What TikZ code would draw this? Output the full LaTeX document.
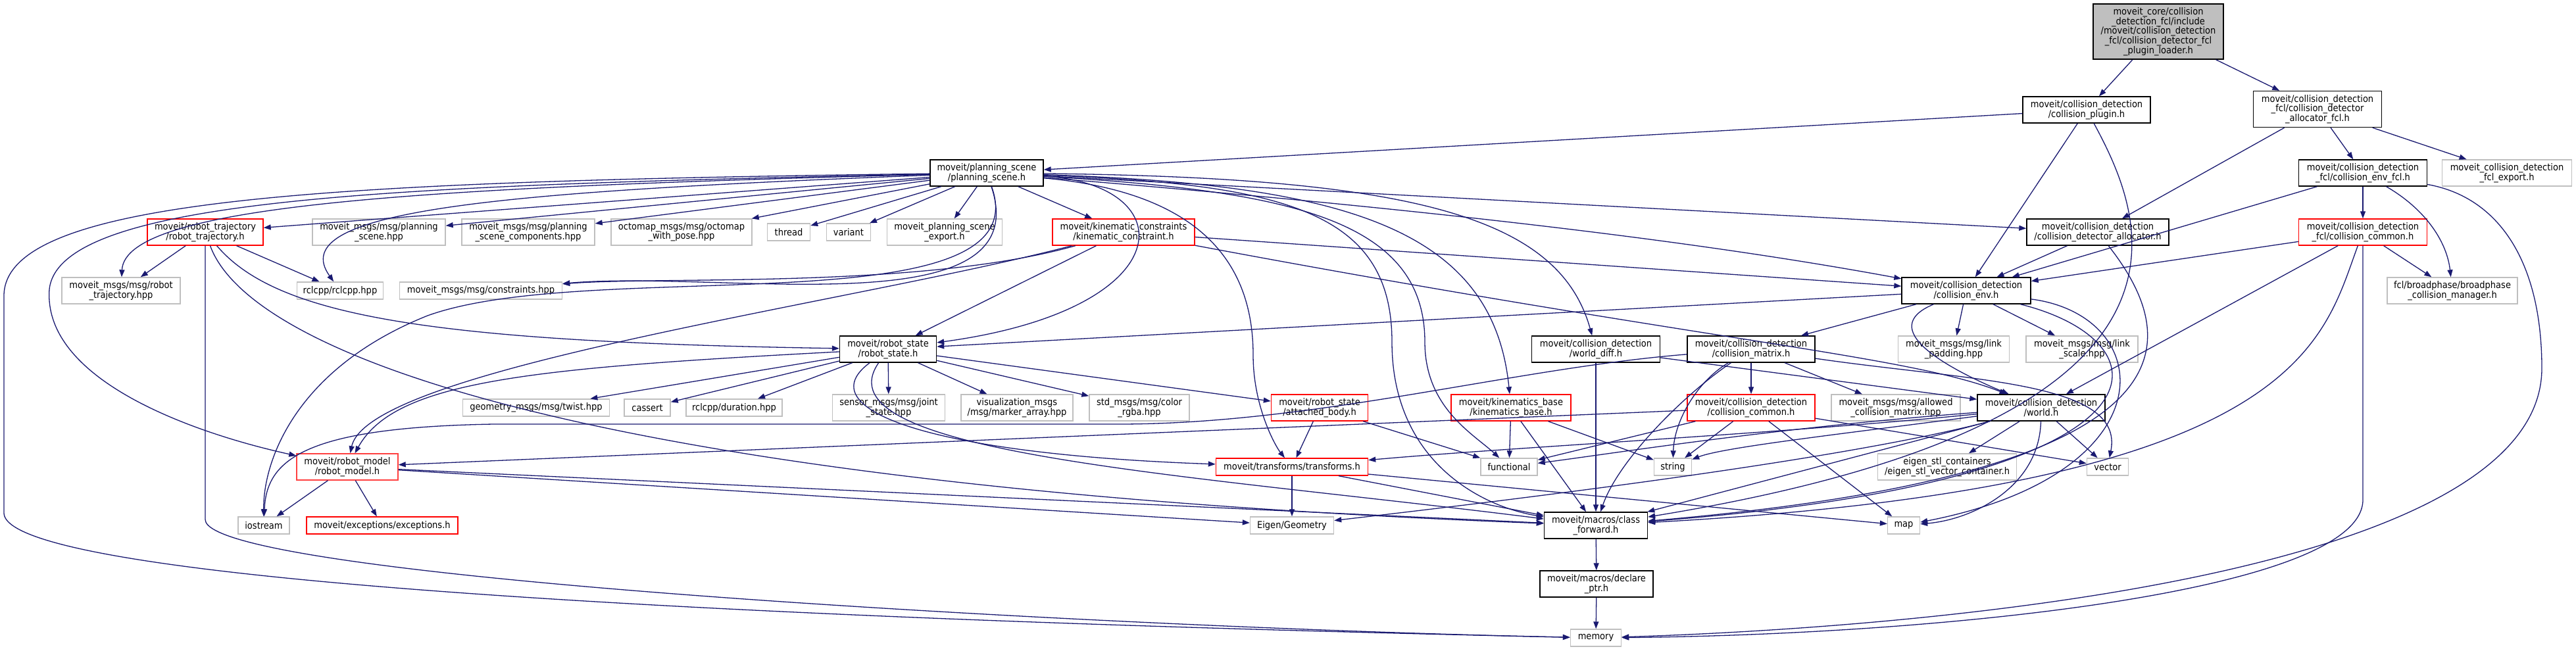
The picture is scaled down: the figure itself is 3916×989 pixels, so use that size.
\documentclass[tikz,border=0pt]{standalone}
\usepackage{fontspec}
\setmainfont{DejaVu Sans Condensed}
\usetikzlibrary{arrows.meta}
\definecolor{dgEdge}{HTML}{191970}
\definecolor{dgGrey}{HTML}{BFBFBF}
\definecolor{dgRed}{HTML}{FF0000}
\definecolor{dgInk}{HTML}{000000}
\newcommand{\DGType}{\fontsize{14.5}{14.7}\selectfont}
\tikzset{dg/base/.style={x=1pt,y=1pt,
  every node/.style={font=\DGType,inner sep=0pt,text=dgInk}},
  dg/dep/.style={-{Triangle[length=11pt,width=8pt]},draw=dgEdge,line width=1.3pt},
  dg/box/.style={draw=dgInk,fill=white,line width=1.4pt,align=center},
  dg/ext/.style={dg/box,draw=dgGrey},
  dg/trunc/.style={dg/box,draw=dgRed},
  dg/root/.style={dg/box,fill=dgGrey},
  dg/l1/.style={minimum height=26pt},
  dg/l2/.style={minimum height=40pt},
  dg/l3/.style={minimum height=55pt}}

\begin{document}
\begin{tikzpicture}[dg/base,y=-1pt]
  \useasboundingbox (0,0) rectangle (3916,989);
  % top of the graph: the fcl plugin loader
  \node[dg/root,minimum width=198pt,minimum height=84pt] (root) at (3281,48)
    {moveit\_core/collision\\\_detection\_fcl/include\\/moveit/collision\_detection\\\_fcl/collision\_detector\_fcl\\\_plugin\_loader.h};
  \node[dg/box,dg/l2,minimum width=194pt] (plugin) at (3172,167) {moveit/collision\_detection\\/collision\_plugin.h};
  \node[dg/box,dg/l3,minimum width=195pt] (allocfcl) at (3523,166) {moveit/collision\_detection\\\_fcl/collision\_detector\\\_allocator\_fcl.h};
  \node[dg/box,dg/l2,minimum width=195pt] (envfcl) at (3592,263) {moveit/collision\_detection\\\_fcl/collision\_env\_fcl.h};
  \node[dg/ext,dg/l2,minimum width=197pt] (fclexport) at (3811,263) {moveit\_collision\_detection\\\_fcl\_export.h};
  \node[dg/box,dg/l2,minimum width=216pt] (detalloc) at (3189,353) {moveit/collision\_detection\\/collision\_detector\_allocator.h};
  \node[dg/trunc,dg/l2,minimum width=195pt] (fclcommon) at (3592,353) {moveit/collision\_detection\\\_fcl/collision\_common.h};
  \node[dg/box,dg/l2,minimum width=196pt] (colenv) at (2989,442) {moveit/collision\_detection\\/collision\_env.h};
  \node[dg/ext,dg/l2,minimum width=198pt] (broadphase) at (3728,442) {fcl/broadphase/broadphase\\\_collision\_manager.h};
  \node[dg/ext,dg/l2,minimum width=169pt] (padding) at (2970,531) {moveit\_msgs/msg/link\\\_padding.hpp};
  \node[dg/ext,dg/l2,minimum width=170pt] (scale) at (3165,531) {moveit\_msgs/msg/link\\\_scale.hpp};
  \node[dg/box,dg/l2,minimum width=194pt] (world) at (3103,620) {moveit/collision\_detection\\/world.h};
  \node[dg/ext,dg/l2,minimum width=196pt] (acm) at (2882,620) {moveit\_msgs/msg/allowed\\\_collision\_matrix.hpp};
  % planning scene row
  \node[dg/box,dg/l2,minimum width=172pt] (pscene) at (1500,263) {moveit/planning\_scene\\/planning\_scene.h};
  \node[dg/trunc,dg/l2,minimum width=176pt] (rtraj) at (312,353) {moveit/robot\_trajectory\\/robot\_trajectory.h};
  \node[dg/ext,dg/l2,minimum width=202pt] (msgpscene) at (576,353) {moveit\_msgs/msg/planning\\\_scene.hpp};
  \node[dg/ext,dg/l2,minimum width=202pt] (msgcomp) at (803,353) {moveit\_msgs/msg/planning\\\_scene\_components.hpp};
  \node[dg/ext,dg/l2,minimum width=214pt] (octomap) at (1036,353) {octomap\_msgs/msg/octomap\\\_with\_pose.hpp};
  \node[dg/ext,dg/l1,minimum width=65pt] (thread) at (1199,353) {thread};
  \node[dg/ext,dg/l1,minimum width=67pt] (variant) at (1290,353) {variant};
  \node[dg/ext,dg/l2,minimum width=175pt] (psexport) at (1436,353) {moveit\_planning\_scene\\\_export.h};
  \node[dg/trunc,dg/l2,minimum width=216pt] (kincon) at (1708,353) {moveit/kinematic\_constraints\\/kinematic\_constraint.h};
  \node[dg/ext,dg/l2,minimum width=180pt] (msgrtraj) at (184,442) {moveit\_msgs/msg/robot\\\_trajectory.hpp};
  \node[dg/ext,dg/l1,minimum width=131pt] (rclcpp) at (517,442) {rclcpp/rclcpp.hpp};
  \node[dg/ext,dg/l1,minimum width=247pt] (constraints) at (731,442) {moveit\_msgs/msg/constraints.hpp};
  % robot state and its includes
  \node[dg/box,dg/l2,minimum width=147pt] (rstate) at (1350,531) {moveit/robot\_state\\/robot\_state.h};
  \node[dg/ext,dg/l1,minimum width=223pt] (twist) at (815,620) {geometry\_msgs/msg/twist.hpp};
  \node[dg/ext,dg/l1,minimum width=70pt] (cassert) at (984,620) {cassert};
  \node[dg/ext,dg/l1,minimum width=146pt] (duration) at (1116,620) {rclcpp/duration.hpp};
  \node[dg/ext,dg/l2,minimum width=171pt] (jointstate) at (1351,620) {sensor\_msgs/msg/joint\\\_state.hpp};
  \node[dg/ext,dg/l2,minimum width=170pt] (marker) at (1546,620) {visualization\_msgs\\/msg/marker\_array.hpp};
  \node[dg/ext,dg/l2,minimum width=152pt] (rgba) at (1732,620) {std\_msgs/msg/color\\\_rgba.hpp};
  \node[dg/trunc,dg/l2,minimum width=147pt] (attached) at (2006,620) {moveit/robot\_state\\/attached\_body.h};
  \node[dg/trunc,dg/l2,minimum width=182pt] (kinbase) at (2297,620) {moveit/kinematics\_base\\/kinematics\_base.h};
  \node[dg/box,dg/l2,minimum width=195pt] (worlddiff) at (2426,531) {moveit/collision\_detection\\/world\_diff.h};
  \node[dg/box,dg/l2,minimum width=194pt] (colmatrix) at (2662,531) {moveit/collision\_detection\\/collision\_matrix.h};
  \node[dg/trunc,dg/l2,minimum width=194pt] (colcommon) at (2662,620) {moveit/collision\_detection\\/collision\_common.h};
  \node[dg/box,dg/l2,minimum width=154pt,draw=dgRed!75] (rmodel) at (528,710) {moveit/robot\_model\\/robot\_model.h};
  % bottom rows
  \node[dg/trunc,dg/l1,minimum width=231pt] (transforms) at (1964,710) {moveit/transforms/transforms.h};
  \node[dg/ext,dg/l1,minimum width=86pt] (functional) at (2294,710) {functional};
  \node[dg/ext,dg/l1,minimum width=57pt] (string) at (2543,710) {string};
  \node[dg/ext,dg/l2,minimum width=211pt] (eigenstl) at (2960,710) {eigen\_stl\_containers\\/eigen\_stl\_vector\_container.h};
  \node[dg/ext,dg/l1,minimum width=63pt] (vector) at (3204,710) {vector};
  \node[dg/ext,dg/l1,minimum width=127pt] (eigen) at (1964,799) {Eigen/Geometry};
  \node[dg/box,dg/l2,minimum width=157pt] (classfwd) at (2426,799) {moveit/macros/class\\\_forward.h};
  \node[dg/ext,dg/l1,minimum width=49pt] (map) at (2894,799) {map};
  \node[dg/box,dg/l2,minimum width=172pt] (declptr) at (2427,888) {moveit/macros/declare\\\_ptr.h};
  \node[dg/ext,dg/l1,minimum width=77pt] (memory) at (2426,970) {memory};
  \node[dg/ext,dg/l1,minimum width=78pt] (iostream) at (401,799) {iostream};
  \node[dg/trunc,dg/l1,minimum width=230pt] (exceptions) at (581,799) {moveit/exceptions/exceptions.h};

  % loader and fcl side
  \draw[dg/dep] (root) -- (plugin);
  \draw[dg/dep] (root) -- (allocfcl);
  \draw[dg/dep] (plugin) -- (pscene);
  \draw[dg/dep] (plugin) -- (colenv);
  \draw[dg/dep] (plugin) .. controls (3260,330) and (3400,640) .. (classfwd);
  \draw[dg/dep] (allocfcl) -- (detalloc);
  \draw[dg/dep] (allocfcl) -- (envfcl);
  \draw[dg/dep] (allocfcl) -- (fclexport);
  \draw[dg/dep] (envfcl) -- (colenv);
  \draw[dg/dep] (envfcl) -- (fclcommon);
  \draw[dg/dep] (envfcl) .. controls (3690,320) and (3720,370) .. (broadphase);
  \draw[dg/dep] (envfcl) .. controls (3800,300) and (3864,400) .. (3864,560) .. controls (3864,880) and (2900,955) .. (memory);
  \draw[dg/dep] (fclcommon) -- (colenv);
  \draw[dg/dep] (fclcommon) -- (broadphase);
  \draw[dg/dep] (fclcommon) -- (world);
  \draw[dg/dep] (fclcommon) .. controls (3530,520) and (3500,740) .. (classfwd);
  \draw[dg/dep] (fclcommon) -- (3592,760) .. controls (3592,900) and (2950,965) .. (memory);
  \draw[dg/dep] (detalloc) -- (colenv);
  \draw[dg/dep] (detalloc) .. controls (3320,520) and (3350,720) .. (classfwd);
  % collision env
  \draw[dg/dep] (colenv) -- (rstate);
  \draw[dg/dep] (colenv) -- (colmatrix);
  \draw[dg/dep] (colenv) -- (padding);
  \draw[dg/dep] (colenv) -- (scale);
  \draw[dg/dep] (colenv) .. controls (2850,500) and (2960,560) .. (world);
  \draw[dg/dep] (colenv) .. controls (3280,480) and (3300,720) .. (map);
  \draw[dg/dep] (colenv) .. controls (3300,520) and (3330,730) .. (classfwd);
  % planning scene fan-out
  \draw[dg/dep] (pscene) -- (rtraj);
  \draw[dg/dep] (pscene) -- (msgpscene);
  \draw[dg/dep] (pscene) -- (msgcomp);
  \draw[dg/dep] (pscene) -- (octomap);
  \draw[dg/dep] (pscene) -- (thread);
  \draw[dg/dep] (pscene) -- (variant);
  \draw[dg/dep] (pscene) -- (psexport);
  \draw[dg/dep] (pscene) -- (kincon);
  \draw[dg/dep] (pscene) -- (detalloc);
  \draw[dg/dep] (pscene) .. controls (2200,320) and (2600,370) .. (colenv);
  \draw[dg/dep] (pscene) .. controls (2150,270) and (2370,330) .. (worlddiff);
  \draw[dg/dep] (pscene) .. controls (2050,280) and (2270,350) .. (kinbase);
  \draw[dg/dep] (pscene) .. controls (1950,290) and (2166,330) .. (2166,520) .. controls (2166,620) and (2240,660) .. (functional);
  \draw[dg/dep] (pscene) .. controls (1950,280) and (2116,320) .. (2116,520) .. controls (2116,700) and (2250,770) .. (classfwd);
  \draw[dg/dep] (pscene) .. controls (1800,290) and (1905,380) .. (1905,540) .. controls (1905,620) and (1940,680) .. (transforms);
  \draw[dg/dep] (pscene) .. controls (1800,280) and (1800,470) .. (rstate);
  \draw[dg/dep] (pscene) .. controls (600,282) and (90,300) .. (75,440) .. controls (65,580) and (300,660) .. (rmodel);
  \draw[dg/dep] (pscene) .. controls (500,276) and (6,300) .. (6,450) -- (6,780) .. controls (6,900) and (1500,950) .. (memory);
  \draw[dg/dep] (pscene) .. controls (650,285) and (190,310) .. (msgrtraj);
  \draw[dg/dep] (pscene) .. controls (750,292) and (430,320) .. (rclcpp);
  \draw[dg/dep] (pscene) .. controls (1580,500) and (1100,410) .. (constraints);
  \draw[dg/dep] (pscene) .. controls (1585,500) and (900,390) .. (650,480) .. controls (450,560) and (400,700) .. (iostream);
  % robot trajectory
  \draw[dg/dep] (rtraj) -- (msgrtraj);
  \draw[dg/dep] (rtraj) -- (rclcpp);
  \draw[dg/dep] (rtraj) -- (312,790) .. controls (312,880) and (1700,955) .. (memory);
  \draw[dg/dep] (rtraj) .. controls (420,480) and (650,520) .. (rstate);
  \draw[dg/dep] (rtraj) .. controls (380,540) and (900,740) .. (classfwd);
  % kinematic constraints
  \draw[dg/dep] (kincon) .. controls (1400,440) and (1000,420) .. (constraints);
  \draw[dg/dep] (kincon) -- (rstate);
  \draw[dg/dep] (kincon) .. controls (1300,460) and (560,560) .. (rmodel);
  \draw[dg/dep] (kincon) -- (colenv);
  \draw[dg/dep] (kincon) .. controls (2600,520) and (2900,540) .. (world);
  % robot state
  \draw[dg/dep] (rstate) .. controls (800,560) and (600,580) .. (rmodel);
  \draw[dg/dep] (rstate) -- (twist);
  \draw[dg/dep] (rstate) -- (cassert);
  \draw[dg/dep] (rstate) -- (duration);
  \draw[dg/dep] (rstate) -- (jointstate);
  \draw[dg/dep] (rstate) -- (marker);
  \draw[dg/dep] (rstate) -- (rgba);
  \draw[dg/dep] (rstate) -- (attached);
  \draw[dg/dep] (rstate) .. controls (1230,620) and (1400,690) .. (transforms);
  \draw[dg/dep] (rstate) .. controls (1240,690) and (1800,720) .. (classfwd);
  \draw[dg/dep] (attached) -- (transforms);
  \draw[dg/dep] (attached) -- (functional);
  \draw[dg/dep] (kinbase) -- (functional);
  \draw[dg/dep] (kinbase) -- (string);
  \draw[dg/dep] (kinbase) -- (classfwd);
  \draw[dg/dep] (worlddiff) -- (world);
  \draw[dg/dep] (worlddiff) -- (classfwd);
  % collision matrix and common
  \draw[dg/dep] (colmatrix) -- (colcommon);
  \draw[dg/dep] (colmatrix) -- (acm);
  \draw[dg/dep] (colmatrix) .. controls (2580,580) and (2545,640) .. (string);
  \draw[dg/dep] (colmatrix) .. controls (2560,600) and (2460,700) .. (classfwd);
  \draw[dg/dep] (colmatrix) .. controls (2300,560) and (2000,645) .. (1700,645) -- (750,645) .. controls (460,650) and (405,700) .. (iostream);
  \draw[dg/dep] (colmatrix) .. controls (3000,580) and (3230,580) .. (vector);
  \draw[dg/dep] (colcommon) -- (functional);
  \draw[dg/dep] (colcommon) -- (string);
  \draw[dg/dep] (colcommon) -- (map);
  \draw[dg/dep] (colcommon) -- (vector);
  \draw[dg/dep] (colcommon) -- (rmodel);
  % world
  \draw[dg/dep] (world) -- (eigenstl);
  \draw[dg/dep] (world) -- (vector);
  \draw[dg/dep] (world) .. controls (3100,740) and (3000,790) .. (map);
  \draw[dg/dep] (world) .. controls (2800,660) and (2620,680) .. (string);
  \draw[dg/dep] (world) .. controls (2700,650) and (2450,690) .. (functional);
  \draw[dg/dep] (world) -- (classfwd);
  \draw[dg/dep] (world) .. controls (2700,660) and (2300,680) .. (transforms);
  \draw[dg/dep] (world) .. controls (2800,700) and (2300,760) .. (eigen);
  % transforms, robot model, macros
  \draw[dg/dep] (transforms) -- (eigen);
  \draw[dg/dep] (transforms) -- (classfwd);
  \draw[dg/dep] (transforms) -- (map);
  \draw[dg/dep] (rmodel) -- (iostream);
  \draw[dg/dep] (rmodel) -- (exceptions);
  \draw[dg/dep] (rmodel) -- (eigen);
  \draw[dg/dep] (rmodel) -- (classfwd);
  \draw[dg/dep] (classfwd) -- (declptr);
  \draw[dg/dep] (declptr) -- (memory);
\end{tikzpicture}
\end{document}
